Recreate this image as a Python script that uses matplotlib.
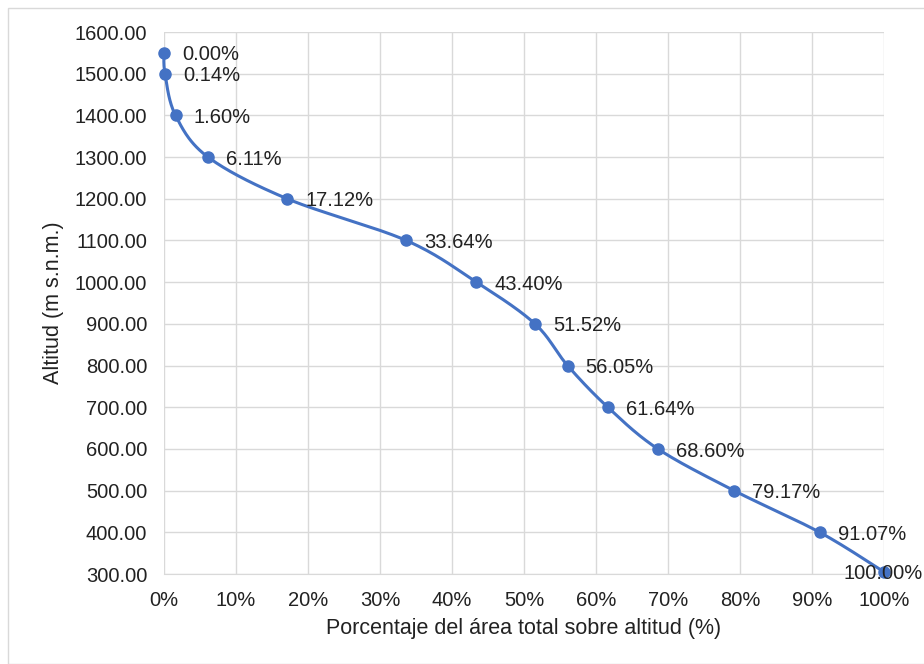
import numpy as np
import matplotlib.pyplot as plt
from matplotlib.patches import Rectangle
from matplotlib.ticker import FuncFormatter

plt.rcParams['font.family'] = ['Liberation Sans', 'DejaVu Sans']

# porcentaje acumulado del area sobre cada altitud
pct = [0.00, 0.14, 1.60, 6.11, 17.12, 33.64, 43.40, 51.52, 56.05, 61.64, 68.60, 79.17, 91.07, 100.00]
alt = [1550, 1500, 1400, 1300, 1200, 1100, 1000, 900, 800, 700, 600, 500, 400, 305]
labels = ['0.00%', '0.14%', '1.60%', '6.11%', '17.12%', '33.64%', '43.40%', '51.52%',
          '56.05%', '61.64%', '68.60%', '79.17%', '91.07%', '100.00%']

blue = '#4472C4'
txt = '#222222'


# smooth line like excel (catmull-rom through the points)
def smooth(x, y, n=30):
    p = np.column_stack([x, y]).astype(float)
    p = np.vstack([p[0], p, p[-1]])
    out = []
    for i in range(1, len(p) - 2):
        p0, p1, p2, p3 = p[i - 1], p[i], p[i + 1], p[i + 2]
        t = np.linspace(0, 1, n)[:, None]
        c = 0.5 * ((2 * p1) + (-p0 + p2) * t + (2 * p0 - 5 * p1 + 4 * p2 - p3) * t ** 2
                   + (-p0 + 3 * p1 - 3 * p2 + p3) * t ** 3)
        out.append(c)
    c = np.vstack(out)
    return c[:, 0], c[:, 1]


fig = plt.figure(figsize=(9.24, 6.64), dpi=100)
fig.patches.append(Rectangle((8 / 924, 0), 1, 1 - 8 / 664, transform=fig.transFigure,
                             fill=False, edgecolor='#d9d9d9', linewidth=1))
ax = fig.add_axes([164 / 924, 90 / 664, 720 / 924, 542 / 664])

# spline in normalised units so the curve keeps the shape of the chart
xs, ys = smooth(np.array(pct) / 100.0, (np.array(alt) - 300) / 1300.0)
ax.plot(xs * 100, ys * 1300 + 300, color=blue, linewidth=2.2, zorder=3, clip_on=False)
ax.plot(pct, alt, 'o', color=blue, markersize=8, zorder=4, clip_on=False)

for x, y, lab in zip(pct[:-1], alt[:-1], labels[:-1]):
    ax.annotate(lab, (x, y), xytext=(13, -1.5), textcoords='offset points',
                va='center', ha='left', fontsize=14.5, color=txt, zorder=5)
# last label sits on top of the point, against the right edge
ax.annotate(labels[-1], (pct[-1], alt[-1]), xytext=(28, -1), textcoords='offset points',
            va='center', ha='right', fontsize=14.5, color=txt, zorder=5)

ax.set_xlim(0, 100)
ax.set_ylim(300, 1600)
ax.set_xticks(range(0, 101, 10))
ax.set_yticks(range(300, 1601, 100))
ax.xaxis.set_major_formatter(FuncFormatter(lambda v, p: '%d%%' % v))
ax.yaxis.set_major_formatter(FuncFormatter(lambda v, p: '%.2f' % v))
ax.grid(True, color='#d9d9d9', linewidth=1)
ax.set_axisbelow(True)
for s in ['top', 'right', 'left']:
    ax.spines[s].set_visible(False)
ax.spines['bottom'].set_color('#d9d9d9')
ax.tick_params(axis='y', length=0, labelsize=14.5, colors=txt, pad=12)
ax.tick_params(axis='x', length=0, labelsize=14.5, colors=txt, pad=12)
ax.set_xlabel('Porcentaje del área total sobre altitud (%)', fontsize=15.5, color=txt, labelpad=6)
ax.set_ylabel('Altitud (m s.n.m.)', fontsize=15.5, color=txt, labelpad=8)

plt.savefig('out.png', dpi=100)
